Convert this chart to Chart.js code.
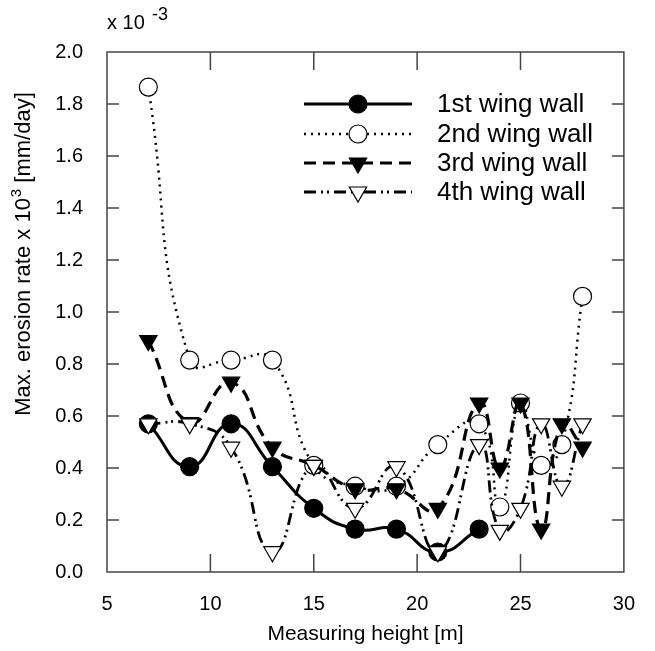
<!DOCTYPE html>
<html>
<head>
  <meta charset="UTF-8">
  <title>Erosion rate</title>
  <style>
    body { margin: 0; background: #fff; }
    #wrap { width: 655px; height: 651px; }
  </style>
  <script src="https://cdn.jsdelivr.net/npm/chart.js"></script>
</head>
<body>
  <div id="wrap"><canvas id="chart" width="655" height="651"></canvas></div>
  <script>
    const heights1 = [7, 9, 11, 13, 15, 17, 19, 21, 23];
    const heights = [7, 9, 11, 13, 15, 17, 19, 21, 23, 24, 25, 26, 27, 28];
    const wall1 = [0.57, 0.405, 0.57, 0.405, 0.245, 0.165, 0.165, 0.077, 0.165];
    const wall2 = [1.865, 0.815, 0.815, 0.815, 0.41, 0.33, 0.33, 0.49, 0.57, 0.25, 0.65, 0.41, 0.49, 1.06];
    const wall3 = [0.89, 0.575, 0.73, 0.48, 0.41, 0.32, 0.32, 0.245, 0.65, 0.40, 0.65, 0.165, 0.57, 0.48];
    const wall4 = [0.57, 0.57, 0.48, 0.078, 0.41, 0.245, 0.405, 0.078, 0.49, 0.16, 0.245, 0.57, 0.33, 0.57];
    const names = ['1st wing wall', '2nd wing wall', '3rd wing wall', '4th wing wall'];
    const xTicks = [5, 10, 15, 20, 25, 30];

    const pts = (xs, ys) => xs.map((x, i) => ({ x, y: ys[i] }));
    const FONT = 'Liberation Sans, Arial, sans-serif';

    const datasets = [
      { label: names[0], data: pts(heights1, wall1), borderDash: [], borderWidth: 3,
        pointStyle: 'circle', pointRadius: 9, pointBackgroundColor: '#000', order: 4 },
      { label: names[1], data: pts(heights, wall2), borderDash: [2, 5], borderWidth: 2.5,
        pointStyle: 'circle', pointRadius: 9, pointBackgroundColor: '#fff', order: 3 },
      { label: names[2], data: pts(heights, wall3), borderDash: [12, 7], borderWidth: 3.2,
        pointStyle: 'triangle', pointRotation: 180, pointRadius: 10, pointBackgroundColor: '#000', order: 2 },
      { label: names[3], data: pts(heights, wall4), borderDash: [12, 5, 2, 4, 2, 5], borderWidth: 2.8,
        pointStyle: 'triangle', pointRotation: 180, pointRadius: 10, pointBackgroundColor: '#fff', order: 1 }
    ].map(d => Object.assign({
      borderColor: '#000', pointBorderColor: '#000', pointBorderWidth: 1.2,
      tension: 0.5, fill: false
    }, d));

    // frame, inward ticks, y title, exponent note and legend
    const decor = {
      id: 'decor',
      afterDraw(chart) {
        const { ctx, chartArea: a, scales: { x, y } } = chart;
        ctx.save();
        ctx.strokeStyle = '#444';
        ctx.lineWidth = 1.5;
        ctx.strokeRect(a.left, a.top, a.right - a.left, a.bottom - a.top);
        ctx.beginPath();
        xTicks.slice(1, -1).forEach(v => {
          const px = x.getPixelForValue(v);
          ctx.moveTo(px, a.bottom); ctx.lineTo(px, a.bottom - 18);
          ctx.moveTo(px, a.top); ctx.lineTo(px, a.top + 18);
        });
        for (let v = 0.2; v < 1.95; v += 0.2) {
          const py = y.getPixelForValue(v);
          ctx.moveTo(a.left, py); ctx.lineTo(a.left + 12, py);
          ctx.moveTo(a.right, py); ctx.lineTo(a.right - 12, py);
        }
        ctx.stroke();

        ctx.fillStyle = '#000';
        ctx.textBaseline = 'alphabetic';
        ctx.textAlign = 'left';
        ctx.font = '20px ' + FONT;
        ctx.fillText('x 10', 107, 29);
        ctx.font = '18px ' + FONT;
        ctx.fillText('-3', 152, 20);

        // y axis title with superscript
        const t1 = 'Max. erosion rate x 10', t2 = '3', t3 = ' [mm/day]';
        const big = '22px ' + FONT, small = '15px ' + FONT;
        ctx.font = big;
        const w1 = ctx.measureText(t1).width, w3 = ctx.measureText(t3).width;
        ctx.font = small;
        const w2 = ctx.measureText(t2).width + 1;
        const total = w1 + w2 + w3;
        ctx.translate(30, 254);
        ctx.rotate(-Math.PI / 2);
        let sx = -total / 2;
        ctx.font = big;
        ctx.fillText(t1, sx, 0);
        ctx.font = small;
        ctx.fillText(t2, sx + w1 + 1, -9);
        ctx.font = big;
        ctx.fillText(t3, sx + w1 + w2, 0);
        ctx.setTransform(1, 0, 0, 1, 0, 0);

        // legend
        const rowY = [104, 134, 163, 192];
        chart.data.datasets.forEach((d, i) => {
          const yy = rowY[i];
          ctx.strokeStyle = '#000';
          ctx.lineWidth = d.borderWidth;
          ctx.setLineDash(d.borderDash);
          ctx.beginPath();
          ctx.moveTo(304, yy); ctx.lineTo(412, yy);
          ctx.stroke();
          ctx.setLineDash([]);
          ctx.lineWidth = 1.2;
          ctx.fillStyle = d.pointBackgroundColor;
          ctx.beginPath();
          if (d.pointStyle === 'circle') {
            ctx.arc(358, yy, 9, 0, Math.PI * 2);
          } else {
            const r = 10;
            ctx.moveTo(358 - r * 0.866, yy - r * 0.5);
            ctx.lineTo(358 + r * 0.866, yy - r * 0.5);
            ctx.lineTo(358, yy + r);
            ctx.closePath();
          }
          ctx.fill();
          ctx.stroke();
          ctx.fillStyle = '#000';
          ctx.font = '26px ' + FONT;
          ctx.textBaseline = 'middle';
          ctx.fillText(d.label, 437, yy + 1);
        });
        ctx.restore();
      }
    };

    new Chart(document.getElementById('chart'), {
      type: 'line',
      data: { datasets },
      plugins: [decor],
      options: {
        responsive: false,
        animation: false,
        layout: { padding: { top: 52, right: 27, left: 0, bottom: 0 } },
        plugins: { legend: { display: false }, tooltip: { enabled: false } },
        scales: {
          x: {
            type: 'linear', min: 5, max: 30,
            afterBuildTicks: s => { s.ticks = xTicks.map(v => ({ value: v })); },
            afterFit: s => { s.height = 79; },
            grid: { display: false, drawTicks: false },
            border: { display: false },
            ticks: { color: '#000', padding: 20, font: { size: 20, family: FONT } },
            title: { display: true, text: 'Measuring height [m]', color: '#000',
                     font: { size: 21, family: FONT }, padding: { top: 3 } }
          },
          y: {
            min: 0, max: 2.0,
            afterFit: s => { s.width = 107; },
            grid: { display: false, drawTicks: false },
            border: { display: false },
            ticks: { stepSize: 0.2, color: '#000', padding: 24,
                     font: { size: 20, family: FONT },
                     callback: v => v.toFixed(1) }
          }
        }
      }
    });
  </script>
</body>
</html>
